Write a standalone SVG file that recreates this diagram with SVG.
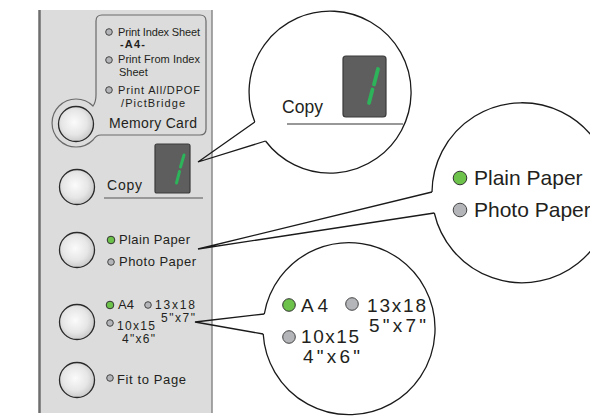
<svg xmlns="http://www.w3.org/2000/svg" width="590" height="417" viewBox="0 0 590 417">
<defs>
<radialGradient id="btn" cx="0.45" cy="0.45" r="0.6">
<stop offset="0" stop-color="#fbfbfb"/>
<stop offset="0.6" stop-color="#e6e6e6"/>
<stop offset="1" stop-color="#c4c4c4"/>
</radialGradient>
<style>
text{font-family:"Liberation Sans",Arial,sans-serif;fill:#231f20}
.s{font-size:11px}
.m{font-size:13px}
.n{font-size:12px}
.b{font-size:14px}
.btn{fill:url(#btn);stroke:#2a2a2a;stroke-width:1.3}
.led{fill:#b4b5b8;stroke:#444;stroke-width:1}
.ledg{fill:#6cc24a;stroke:#333;stroke-width:1}
.lcd{fill:#5e5e5e;stroke:#3a3a3a;stroke-width:1.2}
.seg{stroke:#2db35a;stroke-linecap:round;fill:none}
.ball{fill:#fff;stroke:#1a1a1a;stroke-width:1.3}
.tail{fill:none;stroke:#1a1a1a;stroke-width:1.3;stroke-linejoin:miter}
.bt{font-size:21px}
.at{font-size:19px}
</style>
</defs>
<rect width="590" height="417" fill="#fff"/>
<g id="panel">
<rect x="39" y="10" width="173" height="403" fill="#dcdcdc"/>
<line x1="39.5" y1="10" x2="39.5" y2="413" stroke="#6e6e6e" stroke-width="2.5"/>
<line x1="212" y1="10" x2="212" y2="413" stroke="#8a8a8a" stroke-width="1.5"/>
</g>
<g id="memory-card">
<path d="M102,15 H200 Q206,15 206,21 V129 Q206,135 200,135 H101 Q96,135 93,140 A24,24 0 1 1 93,106 Q96,102 96,95 V21 Q96,15 102,15 Z" fill="#dcdcdc" stroke="#6a6a6a" stroke-width="1.2"/>
<circle class="btn" cx="76" cy="124" r="17.5"/>
<circle class="led" cx="109" cy="32" r="3.3"/>
<text class="s" x="118" y="36" textLength="82" lengthAdjust="spacing">Print Index Sheet</text>
<text class="s" x="120" y="48" font-weight="bold" textLength="25" lengthAdjust="spacing">-A4-</text>
<circle class="led" cx="109" cy="60" r="3.3"/>
<text class="s" x="118" y="63" textLength="82" lengthAdjust="spacing">Print From Index</text>
<text class="s" x="119" y="76">Sheet</text>
<circle class="led" cx="109" cy="90" r="3.3"/>
<text class="s" x="118" y="94" textLength="82" lengthAdjust="spacing">Print All/DPOF</text>
<text class="s" x="121" y="107" textLength="64" lengthAdjust="spacing">/PictBridge</text>
<text class="b" x="109" y="128" textLength="88" lengthAdjust="spacing">Memory Card</text>
</g>
<g id="copy">
<circle class="btn" cx="77" cy="187" r="17.5"/>
<text class="b" x="107" y="190" textLength="35" lengthAdjust="spacing">Copy</text>
<line x1="104" y1="198" x2="203" y2="198" stroke="#555" stroke-width="1"/>
<rect class="lcd" x="155" y="144" width="35" height="49" rx="2"/>
<line class="seg" x1="184" y1="155" x2="180.5" y2="167" stroke-width="3"/>
<line class="seg" x1="179.5" y1="171.5" x2="176.5" y2="183" stroke-width="3"/>
</g>
<g id="paper-type">
<circle class="btn" cx="77" cy="250" r="17.5"/>
<circle class="ledg" cx="111" cy="240" r="3.8"/>
<text class="m" x="119" y="244" textLength="71" lengthAdjust="spacing">Plain Paper</text>
<circle class="led" cx="111" cy="262" r="3.3"/>
<text class="m" x="119" y="266" textLength="77" lengthAdjust="spacing">Photo Paper</text>
</g>
<g id="paper-size">
<circle class="btn" cx="77" cy="322" r="17.5"/>
<circle class="ledg" cx="110" cy="305" r="3.8"/>
<text class="m" x="118" y="309">A4</text>
<circle class="led" cx="148" cy="305" r="3.3"/>
<text class="n" x="155" y="308.5" textLength="40" lengthAdjust="spacing">13x18</text>
<text class="n" x="161" y="321.5" textLength="34" lengthAdjust="spacing">5"x7"</text>
<circle class="led" cx="110" cy="323" r="3.3"/>
<text class="n" x="117" y="330" textLength="38" lengthAdjust="spacing">10x15</text>
<text class="n" x="122" y="343" textLength="33" lengthAdjust="spacing">4"x6"</text>
</g>
<g id="fit-to-page">
<circle class="btn" cx="77" cy="380" r="17.5"/>
<circle class="led" cx="110" cy="378" r="3.3"/>
<text class="m" x="117" y="384" textLength="69" lengthAdjust="spacing">Fit to Page</text>
</g>
<g id="copy-callout">
<path class="ball" d="M265.5,141 A81,81 0 1 0 254.8,122"/>
<text x="282" y="113" font-size="17.5px" textLength="41" lengthAdjust="spacing">Copy</text>
<line x1="287" y1="124" x2="403" y2="124" stroke="#333" stroke-width="1.2"/>
<rect class="lcd" x="343" y="56" width="43" height="61" rx="3"/>
<line class="seg" x1="378" y1="69" x2="374" y2="84.5" stroke-width="3.8"/>
<line class="seg" x1="372.5" y1="89.5" x2="369" y2="103" stroke-width="3.8"/>
</g>
<g id="paper-type-callout">
<path class="ball" d="M434.3,213 A90,90 0 1 0 432,192"/>
<circle class="ledg" cx="460" cy="178" r="6.8"/>
<text class="bt" x="474" y="185">Plain Paper</text>
<circle class="led" cx="460" cy="210" r="6.8"/>
<text class="bt" x="474" y="217">Photo Paper</text>
</g>
<g id="paper-size-callout">
<path class="ball" d="M263.2,334 A86,86 0 1 0 264.3,314"/>
<circle class="ledg" cx="289" cy="305" r="6.3"/>
<text class="at" x="301" y="312" textLength="27" lengthAdjust="spacing">A4</text>
<circle class="led" cx="352" cy="304" r="6.3"/>
<text class="at" x="367" y="312" textLength="59" lengthAdjust="spacing">13x18</text>
<text class="at" x="369" y="332" textLength="57" lengthAdjust="spacing">5"x7"</text>
<circle class="led" cx="289" cy="337" r="6.3"/>
<text class="at" x="301" y="343" textLength="58" lengthAdjust="spacing">10x15</text>
<text class="at" x="303" y="363" textLength="57" lengthAdjust="spacing">4"x6"</text>
</g>
<g id="connectors">
<polyline class="tail" points="254.8,122 198,162 265.5,141"/>
<polyline class="tail" points="432,192 198,249 434.3,213"/>
<polyline class="tail" points="264.3,314 195,322 263.2,334"/>
</g>
</svg>
